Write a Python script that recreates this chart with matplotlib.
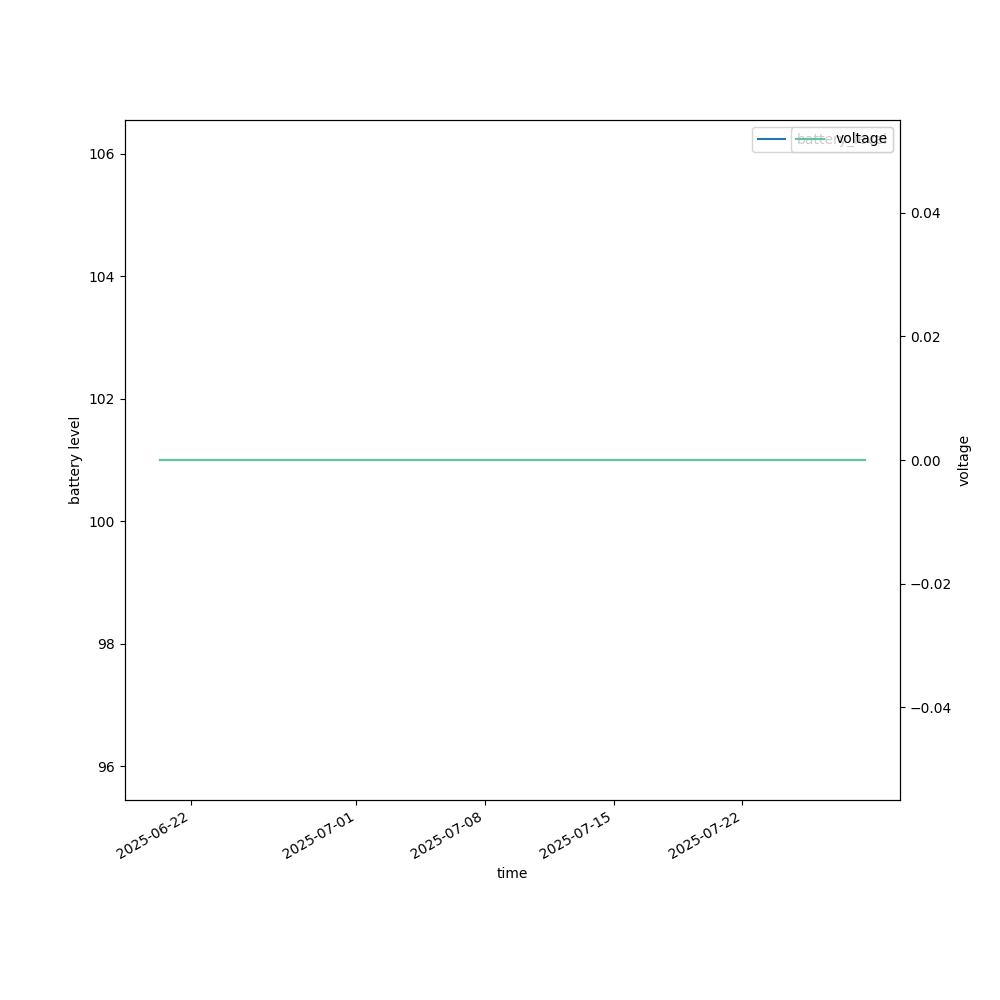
import matplotlib
matplotlib.use("Agg")
import matplotlib.pyplot as plt
import pandas as pd

times = pd.to_datetime(["2025-06-20 08:00", "2025-07-28 16:00"])
battery_level = [101, 101]
voltage = [0, 0]

fig, ax = plt.subplots(figsize=(10, 10), dpi=100)
ax.plot(times, battery_level, color="#1f77b4", label="battery_level")
ax.set_xlabel("time")
ax.set_ylabel("battery level")
ax.legend(loc="upper right")

ax2 = ax.twinx()
ax2.plot(times, voltage, color="#66c2a5", label="voltage")
ax2.set_ylabel("voltage")
ax2.legend(loc="upper right")

fig.autofmt_xdate()
fig.savefig("out.png")
